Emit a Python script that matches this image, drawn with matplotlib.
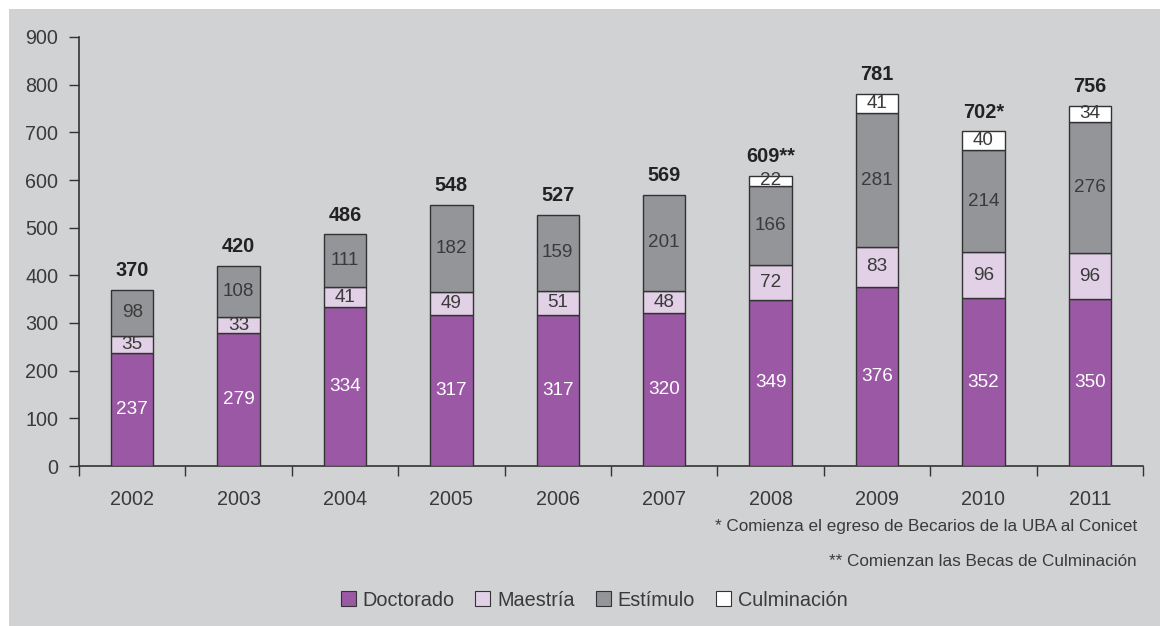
import matplotlib
matplotlib.use("Agg")
import matplotlib.pyplot as plt
from matplotlib.patches import Rectangle, Patch
import numpy as np

years = ["2002", "2003", "2004", "2005", "2006", "2007", "2008", "2009", "2010", "2011"]
doctorado = [237, 279, 334, 317, 317, 320, 349, 376, 352, 350]
maestria = [35, 33, 41, 49, 51, 48, 72, 83, 96, 96]
estimulo = [98, 108, 111, 182, 159, 201, 166, 281, 214, 276]
culminacion = [0, 0, 0, 0, 0, 0, 22, 41, 40, 34]
totals = ["370", "420", "486", "548", "527", "569", "609**", "781", "702*", "756"]
series_names = ["Doctorado", "Maestría", "Estímulo", "Culminación"]
colors = ["#9b59a5", "#e1d0e6", "#939598", "#ffffff"]
text_colors = ["white", "#3a3a3a", "#3a3a3a", "#3a3a3a"]
notes = ["* Comienza el egreso de Becarios de la UBA al Conicet",
         "** Comienzan las Becas de Culminación"]

plt.rcParams['font.family'] = ['Liberation Sans', 'DejaVu Sans']

W, H = 1160, 626
fig = plt.figure(figsize=(W/100, H/100), dpi=100)
fig.patch.set_facecolor("white")
fig.patches.append(Rectangle((9/W, 0), (W-9)/W, (H-9)/H, transform=fig.transFigure,
                             facecolor="#d1d2d4", edgecolor="none", zorder=-10))

ax = fig.add_axes([79/W, 1-466/H, (1143-79)/W, (466-37)/H])
ax.set_facecolor("none")
x = np.arange(len(years))
bottom = np.zeros(len(years))
data = [doctorado, maestria, estimulo, culminacion]
for vals, col, tc in zip(data, colors, text_colors):
    vals = np.array(vals, dtype=float)
    mask = vals > 0
    ax.bar(x[mask], vals[mask], bottom=bottom[mask], width=0.4, color=col,
           edgecolor="#333333", linewidth=1.0, zorder=3)
    for i in np.where(mask)[0]:
        ax.text(x[i], bottom[i] + vals[i]/2, f"{int(vals[i])}", ha="center", va="center",
                color=tc, fontsize=13.6, zorder=4)
    bottom += vals

for i, t in enumerate(totals):
    ax.annotate(t, (x[i], bottom[i]), xytext=(0, 7), textcoords="offset points",
                ha="center", va="bottom", fontsize=14.3, fontweight="bold", color="#222222")

ax.set_xlim(-0.5, len(years) - 0.5)
ax.set_ylim(0, 900)
ax.set_yticks(range(0, 901, 100))
ax.set_xticks(np.arange(-0.5, len(years), 1.0))
ax.set_xticklabels([])
ax.set_xticks(x, minor=True)
ax.set_xticklabels(years, minor=True)
ax.tick_params(axis="x", which="major", direction="out", length=7, width=1, color="#333333")
ax.tick_params(axis="x", which="minor", length=0, pad=17, labelsize=14.2, labelcolor="#3a3a3a")
ax.tick_params(axis="y", direction="out", length=7, width=1, color="#333333",
               labelsize=14.2, labelcolor="#3a3a3a", pad=8)
for s in ["top", "right"]:
    ax.spines[s].set_visible(False)
for s in ["left", "bottom"]:
    ax.spines[s].set_color("#333333")
    ax.spines[s].set_linewidth(1.2)

fig.text(1137/W, 1-527/H, notes[0], ha="right", va="center", fontsize=12.3, color="#3a3a3a")
fig.text(1137/W, 1-561/H, notes[1], ha="right", va="center", fontsize=12.3, color="#3a3a3a")

handles = [Patch(facecolor=c, edgecolor="#333333", linewidth=0.8) for c in colors]
leg = fig.legend(handles, series_names, loc="center", bbox_to_anchor=(594/W, 1-600/H),
                 ncol=4, frameon=False, fontsize=14.3, handlelength=0.75, handleheight=0.75,
                 handletextpad=0.35, columnspacing=1.05)
for t in leg.get_texts():
    t.set_color("#3a3a3a")

fig.savefig("out.png", dpi=100, facecolor=fig.get_facecolor())
